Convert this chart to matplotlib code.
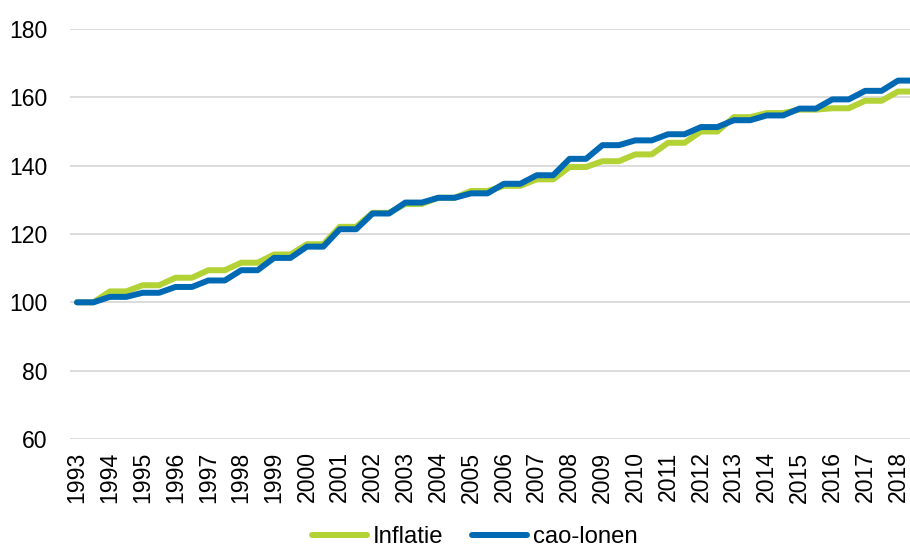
import numpy as np
from matplotlib import pyplot as plt

plt.rcParams['font.family'] = ['Liberation Sans', 'DejaVu Sans']

years = list(range(1993, 2019))
inflatie = [100.0, 103.2, 105.0, 107.2, 109.4, 111.6, 114.0, 117.0, 122.1, 126.2,
            128.8, 130.6, 132.6, 134.1, 136.0, 139.6, 141.3, 143.3, 146.7, 150.0,
            154.2, 155.4, 156.4, 156.8, 159.0, 161.7]
cao_lonen = [100.0, 101.6, 102.8, 104.5, 106.4, 109.4, 113.0, 116.3, 121.4, 126.0,
             129.2, 130.6, 131.9, 134.7, 137.2, 142.0, 146.0, 147.4, 149.2, 151.3,
             153.3, 154.7, 156.7, 159.4, 161.9, 164.9]

# each yearly value is held for half a year, then the line climbs to the next
def stepped(vals):
    xs, ys = [], []
    for y, v in zip(years, vals):
        xs += [y, y + 0.5]
        ys += [v, v]
    return np.array(xs), np.array(ys)

fig = plt.figure(figsize=(9.1, 5.47), dpi=100)
ax = fig.add_axes([70/910, 1 - 439/547, 840/910, 410/547])

x, y = stepped(inflatie)
ax.plot(x, y, color='#B2D235', lw=4.3, solid_capstyle='round', label='Inflatie', zorder=3)
x, y = stepped(cao_lonen)
ax.plot(x, y, color='#0069B4', lw=4.3, solid_capstyle='round', label='cao-lonen', zorder=4)

ax.set_ylim(60, 180)
ax.set_xlim(1992.787, 2018.365)
ax.set_yticks(range(60, 181, 20))
ax.set_xticks(years)
ax.set_xticklabels([str(y) for y in years], rotation=90)
ax.grid(axis='y', color='#D9D9D9', lw=1.3, zorder=0)
ax.set_axisbelow(True)
for s in ax.spines.values():
    s.set_visible(False)
ax.tick_params(axis='both', length=0, labelsize=16.6, colors='black')
ax.tick_params(axis='y', pad=16)
ax.tick_params(axis='x', pad=9)

fig.legend(loc='center', bbox_to_anchor=(0.522, 0.018), ncol=2, frameon=False,
           fontsize=17.2, handlelength=2.3, handletextpad=0.25, columnspacing=1.2)

fig.savefig('out.png', dpi=100)
